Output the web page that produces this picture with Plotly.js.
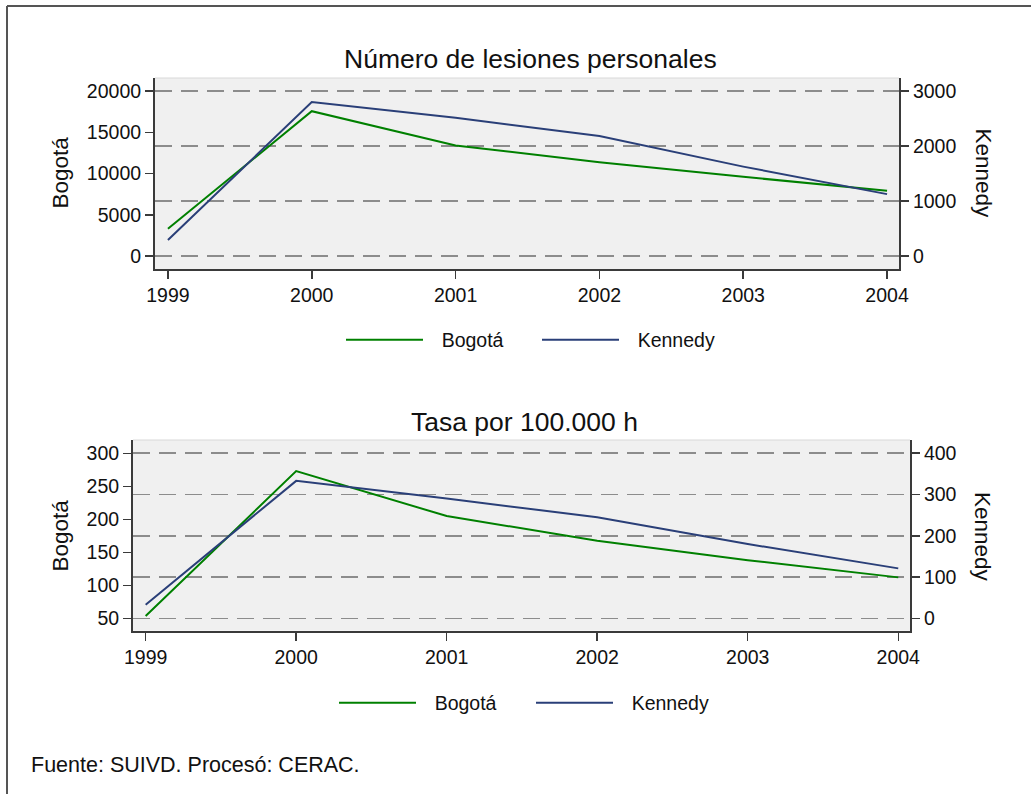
<!DOCTYPE html>
<html>
<head>
<meta charset="utf-8">
<script src="https://cdn.plot.ly/plotly-3.0.1.min.js"></script>
<style>html,body{margin:0;padding:0;background:#fff;}#chart{width:1031px;height:794px;}</style>
</head>
<body>
<div id="chart"></div>
<script>
// ---- data ----
var years = [1999, 2000, 2001, 2002, 2003, 2004];
var lesionesBogota  = [3300, 17550, 13400, 11350, 9600, 7900];
var lesionesKennedy = [290, 2800, 2515, 2180, 1625, 1125];
var tasaBogota  = [53.5, 273, 205, 167.5, 138, 112];
var tasaKennedy = [33, 333, 290, 245, 180, 121];
var seriesNames = ['Bogotá', 'Kennedy'];
var titles = ['Número de lesiones personales', 'Tasa por 100.000 h'];
var sourceText = 'Fuente: SUIVD. Procesó: CERAC.';

// ---- helpers (pixel -> paper) ----
var W = 1031, H = 794;
function px(x){ return x / W; }
function py(y){ return 1 - y / H; }

var FONT = 'Liberation Sans, Arial, sans-serif';
var GREEN = '#008000', NAVY = '#2a3f78';
var GAP = '\u2002\u2009'; // visual gap between legend line sample and label

var traces = [
  {x: years, y: lesionesBogota, name: GAP + seriesNames[0], type: 'scatter', mode: 'lines',
   line: {color: GREEN, width: 2}, xaxis: 'x', yaxis: 'y', legend: 'legend'},
  {x: years, y: lesionesKennedy, name: GAP + seriesNames[1], type: 'scatter', mode: 'lines',
   line: {color: NAVY, width: 2}, xaxis: 'x', yaxis: 'y2', legend: 'legend'},
  {x: years, y: tasaBogota, name: GAP + seriesNames[0], type: 'scatter', mode: 'lines',
   line: {color: GREEN, width: 2}, xaxis: 'x2', yaxis: 'y3', legend: 'legend2'},
  {x: years, y: tasaKennedy, name: GAP + seriesNames[1], type: 'scatter', mode: 'lines',
   line: {color: NAVY, width: 2}, xaxis: 'x2', yaxis: 'y4', legend: 'legend2'}
];

var tickFont = {family: FONT, size: 19.5, color: '#111'};
function baseAxis(extra){
  var a = {showline: true, linecolor: '#3a3a3a', linewidth: 2, ticks: 'outside', ticklen: 8,
           tickwidth: 1.5, tickcolor: '#3a3a3a', tickfont: tickFont, zeroline: false,
           showgrid: false, fixedrange: true, tickformat: 'd'};
  for (var k in extra) a[k] = extra[k];
  return a;
}
var gridStyle = {showgrid: true, gridcolor: '#8c8c8c', gridwidth: 1.5, griddash: '17px,9px'};
function withGrid(a){ for (var k in gridStyle) a[k] = gridStyle[k]; return a; }

var legendFont = {family: FONT, size: 19.5, color: '#111'};

var layout = {
  width: W, height: H,
  margin: {l: 0, r: 0, t: 0, b: 0},
  paper_bgcolor: '#ffffff',
  plot_bgcolor: '#f0f0f0',
  font: {family: FONT, color: '#111'},
  xaxis: baseAxis({domain: [px(155), px(899)], anchor: 'y', range: [1998.91, 2004.083], dtick: 1}),
  yaxis: baseAxis({domain: [py(269), py(78)], anchor: 'x', range: [-1576, 21576], dtick: 5000, side: 'left'}),
  yaxis2: withGrid(baseAxis({overlaying: 'y', anchor: 'x', side: 'right', range: [-236.4, 3236.4], dtick: 1000})),
  xaxis2: baseAxis({domain: [px(133), px(910)], anchor: 'y3', range: [1998.916, 2004.078], dtick: 1}),
  yaxis3: baseAxis({domain: [py(630.7), py(440)], anchor: 'x2', range: [31.2, 320.2], dtick: 50, side: 'left'}),
  yaxis4: withGrid(baseAxis({overlaying: 'y3', anchor: 'x2', side: 'right', range: [-30, 432], dtick: 100})),
  legend: {orientation: 'h', x: px(341), xanchor: 'left', y: py(340), yanchor: 'middle',
           font: legendFont, itemwidth: 77, entrywidth: 104, bgcolor: 'rgba(0,0,0,0)'},
  legend2: {orientation: 'h', x: px(334), xanchor: 'left', y: py(703), yanchor: 'middle',
           font: legendFont, itemwidth: 77, entrywidth: 105, bgcolor: 'rgba(0,0,0,0)'},
  annotations: [
    {text: titles[0], xref: 'paper', yref: 'paper', x: px(530), y: py(59), xanchor: 'center', yanchor: 'middle',
     showarrow: false, font: {family: FONT, size: 26.5, color: '#111'}},
    {text: titles[1], xref: 'paper', yref: 'paper', x: px(524), y: py(422), xanchor: 'center', yanchor: 'middle',
     showarrow: false, font: {family: FONT, size: 26.5, color: '#111'}},
    {text: seriesNames[0], xref: 'paper', yref: 'paper', x: px(59.5), y: py(173), xanchor: 'center', yanchor: 'middle',
     textangle: -90, showarrow: false, font: {family: FONT, size: 22.5, color: '#111'}},
    {text: seriesNames[1], xref: 'paper', yref: 'paper', x: px(983), y: py(173.5), xanchor: 'center', yanchor: 'middle',
     textangle: 90, showarrow: false, font: {family: FONT, size: 22.5, color: '#111'}},
    {text: seriesNames[0], xref: 'paper', yref: 'paper', x: px(59.5), y: py(536), xanchor: 'center', yanchor: 'middle',
     textangle: -90, showarrow: false, font: {family: FONT, size: 22.5, color: '#111'}},
    {text: seriesNames[1], xref: 'paper', yref: 'paper', x: px(983), y: py(537), xanchor: 'center', yanchor: 'middle',
     textangle: 90, showarrow: false, font: {family: FONT, size: 22.5, color: '#111'}},
    {text: sourceText, xref: 'paper', yref: 'paper', x: px(29), y: py(765), xanchor: 'left', yanchor: 'middle',
     showarrow: false, font: {family: FONT, size: 21.5, color: '#111'}}
  ],
  shapes: [
    {type: 'line', xref: 'paper', yref: 'paper', x0: px(7), x1: 1, y0: py(6), y1: py(6), line: {color: '#555', width: 2}},
    {type: 'line', xref: 'paper', yref: 'paper', x0: px(7), x1: px(7), y0: py(6), y1: 0, line: {color: '#555', width: 2}},
    {type: 'line', xref: 'x domain', yref: 'y domain', x0: 0, x1: 1, y0: 1, y1: 1, line: {color: '#d8d8d8', width: 1}},
    {type: 'line', xref: 'x2 domain', yref: 'y3 domain', x0: 0, x1: 1, y0: 1, y1: 1, line: {color: '#d8d8d8', width: 1}}
  ]
};

Plotly.newPlot('chart', traces, layout, {staticPlot: true, displayModeBar: false});
</script>
</body>
</html>
